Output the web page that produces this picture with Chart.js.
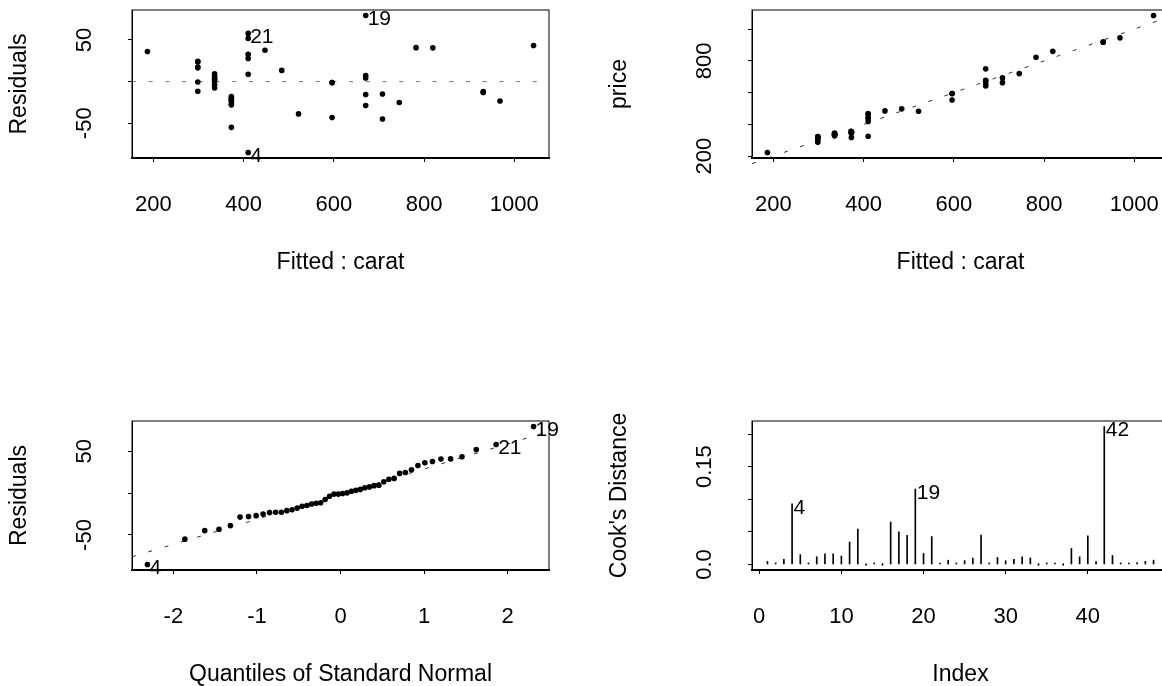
<!DOCTYPE html>
<html>
<head>
<meta charset="utf-8">
<title>Diagnostic plots: price ~ carat</title>
<script src="https://cdn.jsdelivr.net/npm/chart.js@4.4.0/dist/chart.umd.min.js"></script>
<style>
  html, body { margin: 0; padding: 0; background: #fff; }
  #page { position: relative; width: 1162px; height: 686px; overflow: hidden; background: #fff; }
  canvas { position: absolute; }
</style>
</head>
<body>
<div id="page">
  <canvas id="resid" width="581" height="300" style="left:0;top:0"></canvas>
  <canvas id="fit" width="600" height="300" style="left:600px;top:0"></canvas>
  <canvas id="qq" width="581" height="300" style="left:0;top:400px"></canvas>
  <canvas id="cook" width="600" height="300" style="left:600px;top:400px"></canvas>
</div>
<script>
// observations 1..48
var obsIndex = [1,2,3,4,5,6,7,8,9,10,11,12,13,14,15,16,17,18,19,20,21,22,23,24,
                25,26,27,28,29,30,31,32,33,34,35,36,37,38,39,40,41,42,43,44,45,46,47,48];

var fitted = [372.95,335.74,372.95,410.16,670.63,335.74,298.53,447.37,521.79,298.53,
              410.16,782.26,335.74,484.58,596.21,819.47,186.90,707.84,670.63,745.05,
              410.16,335.74,372.95,335.74,372.95,410.16,372.95,410.16,372.95,298.53,
              372.95,931.10,931.10,298.53,335.74,335.74,596.21,596.21,372.95,968.31,
              670.63,1042.73,410.16,670.63,670.63,298.53,707.84,298.53];

var residuals = [-17.95,-7.74,-22.95,-85.16,-28.63,6.26,23.47,37.63,-38.79,24.47,
                 51.84,40.74,0.26,13.42,-1.21,40.53,36.10,-44.84,79.37,-25.05,
                 57.84,9.26,-20.95,-3.74,-19.95,27.84,-54.95,8.84,-26.95,16.47,
                 -22.95,-13.10,-12.10,-0.53,3.26,2.26,-1.21,-43.21,-27.95,-23.31,
                 -15.63,43.27,32.84,7.37,4.37,-11.53,-14.84,17.47];

var price = [355,328,350,325,642,342,322,485,483,323,462,823,336,498,595,860,223,663,750,720,
             468,345,352,332,353,438,318,419,346,315,350,918,919,298,339,338,595,553,345,945,
             655,1086,443,678,675,287,693,316];

var cooks = [0.0048,0.0011,0.0079,0.0928,0.0151,0.0007,0.0119,0.0162,0.0163,0.0129,
             0.0344,0.0543,0.0000,0.0019,0.0000,0.0650,0.0500,0.0447,0.1157,0.0169,
             0.0428,0.0015,0.0065,0.0002,0.0059,0.0099,0.0450,0.0010,0.0108,0.0058,
             0.0079,0.0117,0.0100,0.0000,0.0002,0.0001,0.0000,0.0245,0.0117,0.0439,
             0.0045,0.2115,0.0138,0.0010,0.0004,0.0029,0.0049,0.0066];

// normal QQ plot: theoretical quantiles and sorted residuals
var qqTheo = [-2.3106,-1.8627,-1.6247,-1.4540,-1.3177,-1.2021,-1.1008,-1.0096,-0.9265,-0.8490,
              -0.7764,-0.7076,-0.6420,-0.5791,-0.5184,-0.4595,-0.4023,-0.3463,-0.2913,-0.2371,
              -0.1838,-0.1310,-0.0784,-0.0261,0.0261,0.0784,0.1310,0.1838,0.2371,0.2913,
              0.3463,0.4023,0.4595,0.5184,0.5791,0.6420,0.7076,0.7764,0.8490,0.9265,
              1.0096,1.1008,1.2021,1.3177,1.4540,1.6247,1.8627,2.3106];
var qqSample = [-85.16,-54.95,-44.84,-43.21,-38.79,-28.63,-27.95,-26.95,-25.05,-23.31,
                -22.95,-22.95,-20.95,-19.95,-17.95,-15.63,-14.84,-13.10,-12.10,-11.53,
                -7.74,-3.74,-1.21,-1.21,-0.53,0.26,2.26,3.26,4.37,6.26,
                7.37,8.84,9.26,13.42,16.47,17.47,23.47,24.47,27.84,32.84,
                36.10,37.63,40.53,40.74,43.27,51.84,57.84,79.37];
var qqLineX = [-2.4954, 2.4954];
var qqLineY = [-76.0, 73.5];

// axis limits and ticks
var fitRange = [152.67, 1076.96];
var residRange = [-91.74, 85.95];
var priceRange = [188.48, 1120.52];
var qqRange = [-2.4954, 2.4954];
var indexRange = [-0.88, 49.88];
var cookRange = [-0.00846, 0.21996];

var fitTicks = [200, 400, 600, 800, 1000];
var residTicks = [-50, 0, 50];
var residTickLabels = ['-50', '', '50'];
var priceTicks = [200, 400, 600, 800, 1000];
var priceTickLabels = ['200', '', '', '800', ''];
var qqTicks = [-2, -1, 0, 1, 2];
var indexTicks = [0, 10, 20, 30, 40];
var cookTicks = [0, 0.05, 0.10, 0.15, 0.20];
var cookTickLabels = ['0.0', '', '', '0.15', ''];

var FONT = "'Liberation Sans', Arial, Helvetica, sans-serif";

function xy(xs, ys) {
  return xs.map(function (x, i) { return { x: x, y: ys[i] }; });
}

var framePlugin = {
  id: 'frame',
  afterDraw: function (chart) {
    var a = chart.chartArea, ctx = chart.ctx;
    ctx.save();
    ctx.strokeStyle = '#000';
    ctx.lineWidth = 1;
    ctx.strokeRect(a.left, a.top, a.right - a.left, a.bottom - a.top);
    ctx.restore();
  }
};

// id labels next to the flagged observations
var obsLabelPlugin = {
  id: 'obsLabels',
  afterDatasetsDraw: function (chart, args, opts) {
    if (!opts.items) return;
    var meta = chart.getDatasetMeta(0), ctx = chart.ctx;
    ctx.save();
    ctx.fillStyle = '#000';
    ctx.font = '21px ' + FONT;
    ctx.textAlign = 'left';
    ctx.textBaseline = 'middle';
    opts.items.forEach(function (it) {
      var el = meta.data[it.i];
      ctx.fillText(it.text, el.x + opts.dx, el.y + opts.dy);
    });
    ctx.restore();
  }
};

function panel(id, o) {
  return new Chart(document.getElementById(id), {
    type: o.type || 'scatter',
    data: { datasets: o.datasets },
    options: {
      responsive: false,
      animation: false,
      events: [],
      layout: { padding: { top: o.top, right: o.right, left: 0, bottom: 0 } },
      plugins: {
        legend: { display: false },
        tooltip: { enabled: false },
        obsLabels: { items: o.labels, dx: o.dx, dy: o.dy }
      },
      scales: {
        x: {
          type: 'linear',
          position: 'bottom',
          min: o.xRange[0],
          max: o.xRange[1],
          offset: false,
          afterBuildTicks: function (s) { s.ticks = o.xTicks.map(function (v) { return { value: v }; }); },
          afterFit: function (s) { s.height = o.xHeight; s.paddingLeft = 0; s.paddingRight = 0; },
          ticks: {
            autoSkip: false, minRotation: 0, maxRotation: 0, padding: 30,
            color: '#000', font: { family: FONT, size: 22 },
            callback: function (v) { return String(v); }
          },
          grid: { drawOnChartArea: false, drawTicks: true, tickLength: 4, color: '#000', offset: false },
          border: { display: true, color: '#000', width: 2 },
          title: {
            display: true, text: o.xTitle, color: '#000',
            font: { family: FONT, size: 23 },
            padding: { top: 0, bottom: o.xTitlePad }
          }
        },
        y: {
          type: 'linear',
          position: 'left',
          min: o.yRange[0],
          max: o.yRange[1],
          afterBuildTicks: function (s) { s.ticks = o.yTicks.map(function (v) { return { value: v }; }); },
          afterFit: function (s) { s.width = o.yWidth; s.paddingTop = 0; s.paddingBottom = 0; },
          ticks: {
            autoSkip: false, minRotation: 90, maxRotation: 90, crossAlign: 'center',
            padding: o.yTickPad, color: '#000', font: { family: FONT, size: 22 },
            callback: function (v, i) { return o.yTickLabels[i]; }
          },
          grid: { drawOnChartArea: false, drawTicks: true, tickLength: 4, color: '#000' },
          border: { display: true, color: '#000', width: 1 },
          title: {
            display: true, text: o.yTitle, color: '#000',
            font: { family: FONT, size: 23 },
            padding: { top: 6, bottom: 0 }
          }
        }
      }
    },
    plugins: [framePlugin, obsLabelPlugin]
  });
}

var dotStyle = { pointRadius: 2.8, pointBackgroundColor: '#000', pointBorderWidth: 0, showLine: false };

// residuals vs fitted
panel('resid', {
  top: 10, right: 32, yWidth: 132, xHeight: 142, xTitlePad: 24, yTickPad: 27,
  xRange: fitRange, yRange: residRange, xTicks: fitTicks, yTicks: residTicks,
  yTickLabels: residTickLabels, xTitle: 'Fitted : carat', yTitle: 'Residuals',
  labels: [{ i: 18, text: '19' }, { i: 20, text: '21' }, { i: 3, text: '4' }], dx: 2, dy: 4,
  datasets: [
    Object.assign({ data: xy(fitted, residuals) }, dotStyle),
    { type: 'line', data: xy(fitRange, [0, 0]), borderColor: '#777', borderWidth: 1,
      borderDash: [4, 12.7], pointRadius: 0 }
  ]
});

// observed price vs fitted
panel('fit', {
  top: 10, right: 31, yWidth: 152, xHeight: 142, xTitlePad: 24, yTickPad: 25,
  xRange: fitRange, yRange: priceRange, xTicks: fitTicks, yTicks: priceTicks,
  yTickLabels: priceTickLabels, xTitle: 'Fitted : carat', yTitle: 'price',
  labels: [], dx: 0, dy: 0,
  datasets: [
    Object.assign({ data: xy(fitted, price) }, dotStyle),
    { type: 'line', data: xy(fitRange, fitRange), borderColor: '#333', borderWidth: 1,
      borderDash: [4, 13], pointRadius: 0, clip: false }
  ]
});

// normal QQ plot of residuals
panel('qq', {
  top: 21, right: 32, yWidth: 132, xHeight: 130, xTitlePad: 12, yTickPad: 27,
  xRange: qqRange, yRange: residRange, xTicks: qqTicks, yTicks: residTicks,
  yTickLabels: residTickLabels, xTitle: 'Quantiles of Standard Normal', yTitle: 'Residuals',
  labels: [{ i: 0, text: '4' }, { i: 46, text: '21' }, { i: 47, text: '19' }], dx: 2, dy: 4,
  datasets: [
    Object.assign({ data: xy(qqTheo, qqSample) }, dotStyle),
    { type: 'line', data: xy(qqLineX, qqLineY), borderColor: '#333', borderWidth: 1,
      borderDash: [4, 13], pointRadius: 0 }
  ]
});

// Cook's distance by observation
panel('cook', {
  type: 'bar',
  top: 21, right: 31, yWidth: 152, xHeight: 130, xTitlePad: 12, yTickPad: 22,
  xRange: indexRange, yRange: cookRange, xTicks: indexTicks, yTicks: cookTicks,
  yTickLabels: cookTickLabels, xTitle: 'Index', yTitle: "Cook's Distance",
  labels: [{ i: 3, text: '4' }, { i: 18, text: '19' }, { i: 41, text: '42' }], dx: 1.5, dy: 4,
  datasets: [
    { data: xy(obsIndex, cooks), backgroundColor: '#000', barThickness: 1, minBarLength: 1.5, borderWidth: 0 }
  ]
});
</script>
</body>
</html>
